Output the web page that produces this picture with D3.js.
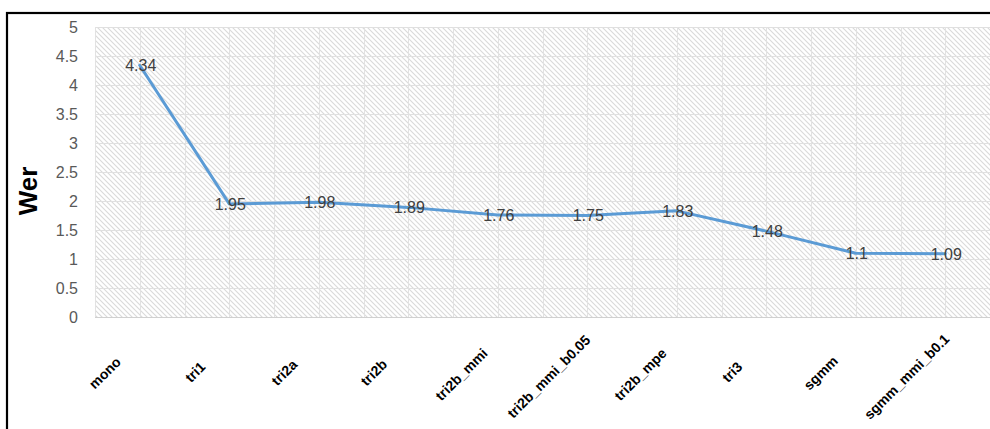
<!DOCTYPE html>
<html>
<head>
<meta charset="utf-8">
<script src="https://cdn.jsdelivr.net/npm/d3@7"></script>
<style>
  html, body { margin: 0; padding: 0; background: #fff; }
  svg { display: block; }
</style>
</head>
<body>
<svg id="chart" width="990" height="429"></svg>
<script>
// WER per training stage
const categories = ["mono", "tri1", "tri2a", "tri2b", "tri2b_mmi", "tri2b_mmi_b0.05",
                    "tri2b_mpe", "tri3", "sgmm", "sgmm_mmi_b0.1"];
const werValues = [4.34, 1.95, 1.98, 1.89, 1.76, 1.75, 1.83, 1.48, 1.1, 1.09];
const yTicks = [0, 0.5, 1, 1.5, 2, 2.5, 3, 3.5, 4, 4.5, 5];
const yTitle = "Wer";

const plot = { left: 95, right: 990, top: 27, bottom: 317 };

const svg = d3.select("#chart");

// Chart frame
svg.append("rect")
  .attr("x", 7).attr("y", 13)
  .attr("width", 1100).attr("height", 600)
  .attr("fill", "#fff")
  .attr("stroke", "#000").attr("stroke-width", 2.2);

// Diagonal hatch fill for the plot area
const defs = svg.append("defs");
const pat = defs.append("pattern")
  .attr("id", "hatch")
  .attr("patternUnits", "userSpaceOnUse")
  .attr("width", 5).attr("height", 5);
pat.append("rect").attr("width", 5).attr("height", 5).attr("fill", "#fff");
pat.append("path")
  .attr("d", "M-1,-1 L6,6 M-1,4 L1,6 M4,-1 L6,1")
  .attr("stroke", "#dadada").attr("stroke-width", 1.1);

const x = d3.scaleBand()
  .domain(categories)
  .range([plot.left, plot.right])
  .padding(0);

const y = d3.scaleLinear()
  .domain([0, 5])
  .range([plot.bottom, plot.top]);

svg.append("rect")
  .attr("x", plot.left).attr("y", plot.top)
  .attr("width", plot.right - plot.left)
  .attr("height", plot.bottom - plot.top)
  .attr("fill", "url(#hatch)");

// Horizontal gridlines
svg.append("g")
  .selectAll("line")
  .data(yTicks)
  .join("line")
  .attr("x1", plot.left).attr("x2", plot.right)
  .attr("y1", d => Math.round(y(d)) + 0.5)
  .attr("y2", d => Math.round(y(d)) + 0.5)
  .attr("stroke", d => d === 0 ? "#d0d0d0" : "#e0e0e0")
  .attr("stroke-width", 1);

// Vertical gridlines at category edges and centres
const vLines = [];
categories.forEach(c => {
  vLines.push(x(c));
  vLines.push(x(c) + x.bandwidth() / 2);
});
svg.append("g")
  .selectAll("line")
  .data(vLines)
  .join("line")
  .attr("x1", d => Math.round(d) + 0.5).attr("x2", d => Math.round(d) + 0.5)
  .attr("y1", plot.top).attr("y2", plot.bottom)
  .attr("stroke", "#e2e2e2").attr("stroke-width", 1);

// Y axis tick labels
const yAxis = d3.axisLeft(y)
  .tickValues(yTicks)
  .tickSize(0)
  .tickPadding(0)
  .tickFormat(d => String(d));
const gy = svg.append("g")
  .attr("transform", `translate(${plot.left - 17},0)`)
  .call(yAxis);
gy.select(".domain").remove();
gy.selectAll("text")
  .attr("font-family", "Liberation Sans, Arial, sans-serif")
  .attr("font-size", 16)
  .attr("fill", "#595959");

// Y axis title
svg.append("text")
  .attr("transform", `translate(37,191) rotate(-90)`)
  .attr("text-anchor", "middle")
  .attr("font-family", "Liberation Sans, Arial, sans-serif")
  .attr("font-weight", "bold")
  .attr("font-size", 26)
  .attr("fill", "#000")
  .text(yTitle);

// X axis category labels, rotated 45 degrees
const xAxis = d3.axisBottom(x).tickSize(0).tickPadding(0);
const gx = svg.append("g")
  .attr("transform", `translate(0,${plot.bottom})`)
  .call(xAxis);
gx.select(".domain").remove();
gx.selectAll(".tick text")
  .attr("font-family", "Liberation Sans, Arial, sans-serif")
  .attr("font-weight", "bold")
  .attr("font-size", 14)
  .attr("fill", "#000")
  .attr("text-anchor", "start")
  .attr("dy", "0.35em")
  .each(function () {
    const L = this.getComputedTextLength();
    d3.select(this)
      .attr("x", -0.57 * L)
      .attr("y", 0)
      .attr("transform", `translate(-33,54) rotate(-45)`);
  });

// WER line
const line = d3.line()
  .x((d, i) => x(categories[i]) + x.bandwidth() / 2)
  .y(d => y(d));

svg.append("path")
  .datum(werValues)
  .attr("d", line)
  .attr("fill", "none")
  .attr("stroke", "#5b9bd5")
  .attr("stroke-width", 3)
  .attr("stroke-linejoin", "round")
  .attr("stroke-linecap", "round");

// Value labels centred on each point
svg.append("g")
  .selectAll("text")
  .data(werValues)
  .join("text")
  .attr("x", (d, i) => x(categories[i]) + x.bandwidth() / 2 + 1)
  .attr("y", d => y(d))
  .attr("dy", "0.36em")
  .attr("text-anchor", "middle")
  .attr("font-family", "Liberation Sans, Arial, sans-serif")
  .attr("font-size", 16)
  .attr("fill", "#404040")
  .text(d => String(d));
</script>
</body>
</html>
